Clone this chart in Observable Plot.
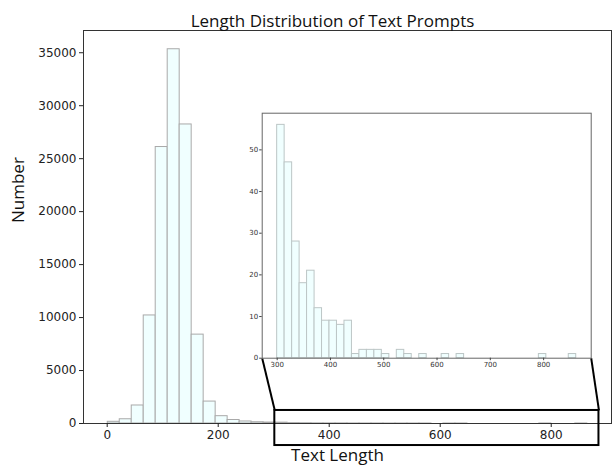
<!DOCTYPE html>
<html>
<head>
<meta charset="utf-8">
<script src="https://cdn.jsdelivr.net/npm/d3@7"></script>
<script src="https://cdn.jsdelivr.net/npm/@observablehq/plot@0.6"></script>
<style>
  html, body { margin: 0; padding: 0; background: white; }
  #wrap { position: relative; width: 616px; height: 469px; overflow: hidden; }
  #wrap svg { position: absolute; }
</style>
</head>
<body>
<div id="wrap"></div>
<script>
// ---- Data ----
const mainEdges = [1, 22.6, 44.2, 65.8, 87.4, 109, 130.6, 152.2, 173.8, 195.4, 217, 238.6, 260.2, 281.8, 303.4, 325, 346.6, 368.2, 389.8, 411.4, 433, 454.6, 476.2, 497.8, 519.4, 541, 562.6, 584.2, 605.8, 627.4, 649, 670.6, 692.2, 713.8, 735.4, 757, 778.6, 800.2, 821.8, 843.4, 865];
const mainCounts = [160, 400, 1700, 10200, 26100, 35330, 28230, 8390, 2070, 690, 330, 190, 120, 90, 80, 35, 25, 14, 11, 11, 5, 3, 4, 1, 2, 1, 1, 0, 1, 1, 0, 0, 0, 0, 0, 0, 1, 0, 0, 1];
const insetEdges = [300, 314, 328.1, 342.1, 356.1, 370.2, 384.2, 398.2, 412.2, 426.3, 440.3, 454.3, 468.4, 482.4, 496.4, 510.5, 524.5, 538.5, 552.5, 566.6, 580.6, 594.6, 608.7, 622.7, 636.7, 650.8, 664.8, 678.8, 692.8, 706.9, 720.9, 734.9, 749, 763, 777, 791.1, 805.1, 819.1, 833.1, 847.2, 861.2];
const insetCounts = [56, 47, 28, 18, 21, 12, 9, 9, 8, 9, 1, 2, 2, 2, 1, 0, 2, 1, 0, 1, 0, 0, 1, 0, 1, 0, 0, 0, 0, 0, 0, 0, 0, 0, 0, 1, 0, 0, 0, 1];
const mainXTicks = [0, 200, 400, 600, 800];
const mainYTicks = [0, 5000, 10000, 15000, 20000, 25000, 30000, 35000];
const insetXTicks = [300, 400, 500, 600, 700, 800];
const insetYTicks = [0, 10, 20, 30, 40, 50];
const zoomBox = [{x1: 302, x2: 886, y1: -2080, y2: 1230}];
const titleText = "Length Distribution of Text Prompts";
const xLabel = "Text Length";
const yLabel = "Number";

// ---- Layout ----
const W = 616, H = 469;
const mainMargin = {left: 83, right: 5, top: 30, bottom: 46};
const mainXDomain = [-42.7, 908.6];
const mainYDomain = [0, 37100];
const inset = {left: 261.7, right: 590.7, top: 112.7, bottom: 357.7};
const insetSvg = {left: 232, top: 106, width: 362, height: 264};
const insetXDomain = [271.9, 889.3];
const insetYDomain = [0, 58.8];

const mainBins = mainCounts.map((c, i) => ({x0: mainEdges[i], x1: mainEdges[i + 1], count: c}));
const insetBins = insetCounts.map((c, i) => ({x0: insetEdges[i], x1: insetEdges[i + 1], count: c}));

const xs = Plot.scale({x: {domain: mainXDomain, range: [mainMargin.left, W - mainMargin.right]}});
const ys = Plot.scale({y: {domain: mainYDomain, range: [H - mainMargin.bottom, mainMargin.top]}});
const connectors = [
  {x1: xs.invert(inset.left), y1: ys.invert(inset.bottom), x2: zoomBox[0].x1, y2: zoomBox[0].y2},
  {x1: xs.invert(inset.right), y1: ys.invert(inset.bottom), x2: zoomBox[0].x2, y2: zoomBox[0].y2}
];

const labelFont = "'Open Sans', 'Noto Sans', sans-serif";

const mainPlot = Plot.plot({
  width: W, height: H,
  marginLeft: mainMargin.left, marginRight: mainMargin.right,
  marginTop: mainMargin.top, marginBottom: mainMargin.bottom,
  x: {domain: mainXDomain, label: null},
  y: {domain: mainYDomain, label: null},
  style: {fontFamily: "'DejaVu Sans', sans-serif", fontSize: "12px", color: "#222", background: "white", overflow: "visible"},
  marks: [
    Plot.rectY(mainBins, {x1: "x0", x2: "x1", y: "count", fill: "#f0ffff", stroke: "#a9a9a9", strokeWidth: 1, inset: 0}),
    Plot.frame({stroke: "#333", strokeWidth: 1}),
    Plot.axisX({ticks: mainXTicks, tickFormat: "d", tickSize: 4, tickPadding: 3, label: null, stroke: "#222"}),
    Plot.axisY({ticks: mainYTicks, tickFormat: "d", tickSize: 4, tickPadding: 3, label: null, stroke: "#222"}),
    Plot.link(connectors, {x1: "x1", y1: "y1", x2: "x2", y2: "y2", stroke: "black", strokeWidth: 2}),
    Plot.rect(zoomBox, {x1: "x1", x2: "x2", y1: "y1", y2: "y2", fill: "none", stroke: "black", strokeWidth: 2}),
    Plot.text([titleText], {frameAnchor: "top", dy: -16, dx: -15, fontSize: 17, fontFamily: labelFont, fill: "#111"}),
    Plot.text([xLabel], {frameAnchor: "bottom", dy: 37, dx: -10, fontSize: 17, fontFamily: labelFont, fill: "#111"}),
    Plot.text([yLabel], {frameAnchor: "left", dx: -65, dy: -4, rotate: -90, fontSize: 17, fontFamily: labelFont, fill: "#111"})
  ]
});
mainPlot.style.left = "0px";
mainPlot.style.top = "0px";

const insetPlot = Plot.plot({
  width: insetSvg.width, height: insetSvg.height,
  marginLeft: inset.left - insetSvg.left,
  marginRight: insetSvg.left + insetSvg.width - inset.right,
  marginTop: inset.top - insetSvg.top,
  marginBottom: insetSvg.top + insetSvg.height - inset.bottom,
  x: {domain: insetXDomain, label: null},
  y: {domain: insetYDomain, label: null},
  style: {fontFamily: "'DejaVu Sans', sans-serif", fontSize: "7px", color: "#333", background: "transparent", overflow: "visible"},
  marks: [
    Plot.frame({fill: "white"}),
    Plot.rectY(insetBins, {x1: "x0", x2: "x1", y: "count", fill: "#f0ffff", stroke: "#bcc6c6", strokeWidth: 1, inset: 0}),
    Plot.frame({stroke: "#666", strokeWidth: 1}),
    Plot.axisX({ticks: insetXTicks, tickFormat: "d", tickSize: 2.5, tickPadding: 1.5, label: null, stroke: "#444"}),
    Plot.axisY({ticks: insetYTicks, tickFormat: "d", tickSize: 2.5, tickPadding: 1.5, label: null, stroke: "#444"})
  ]
});
insetPlot.style.left = insetSvg.left + "px";
insetPlot.style.top = insetSvg.top + "px";

const wrap = document.getElementById("wrap");
wrap.appendChild(mainPlot);
wrap.appendChild(insetPlot);
</script>
</body>
</html>
